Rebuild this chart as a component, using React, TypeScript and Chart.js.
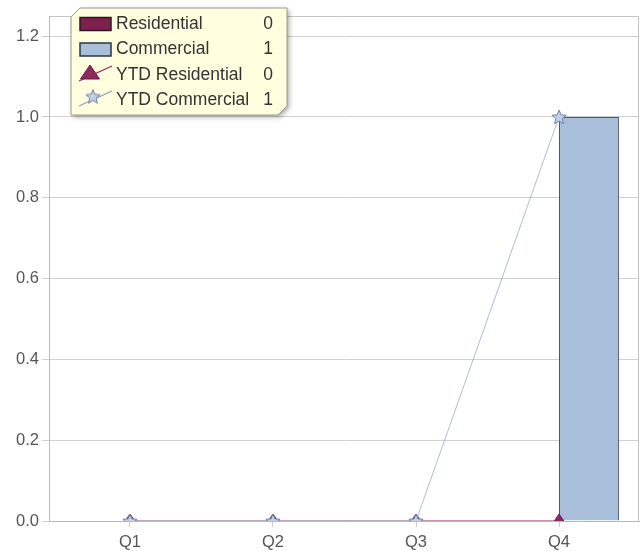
import React, { useEffect, useRef } from "react";
import { Chart, registerables } from "chart.js";

Chart.register(...registerables);

// ---- data ----
const categories = ["Q1", "Q2", "Q3", "Q4"];
const residential = [0, 0, 0, 0];
const commercial = [0, 0, 0, 1];
const ytdResidential = [0, 0, 0, 0];
const ytdCommercial = [0, 0, 0, 1];
const yTicks = [0, 0.2, 0.4, 0.6, 0.8, 1.0, 1.2];
const legendLabels = ["Residential", "Commercial", "YTD Residential", "YTD Commercial"];
const legendValues = [0, 1, 0, 1];

const FONT = "'Liberation Sans', Arial, Helvetica, sans-serif";

const C_RES = "#7F1F4E";
const C_RES_BORDER = "#3A1E2C";
const C_COM = "#A9BFDC";
const C_COM_BORDER = "#4B5670";
const C_RES_LINE = "#8C2A5C";
const C_COM_LINE = "#AEBBD8";

function makeStar(): HTMLCanvasElement {
  const s = 18;
  const cv = document.createElement("canvas");
  cv.width = s;
  cv.height = s;
  const g = cv.getContext("2d")!;
  g.beginPath();
  for (let i = 0; i < 10; i++) {
    const r = i % 2 === 0 ? 7.5 : 3.4;
    const a = -Math.PI / 2 + (i * Math.PI) / 5;
    const px = 9 + r * Math.cos(a);
    const py = 9.6 + r * Math.sin(a);
    if (i === 0) g.moveTo(px, py);
    else g.lineTo(px, py);
  }
  g.closePath();
  g.fillStyle = "#C2CFE6";
  g.fill();
  g.strokeStyle = "#6F7FA4";
  g.lineWidth = 1;
  g.stroke();
  return cv;
}

function makeTriangle(): HTMLCanvasElement {
  const w = 22;
  const h = 16;
  const cv = document.createElement("canvas");
  cv.width = w;
  cv.height = h;
  const g = cv.getContext("2d")!;
  g.beginPath();
  g.moveTo(11, 1);
  g.lineTo(20.5, 15);
  g.lineTo(1.5, 15);
  g.closePath();
  g.fillStyle = "#8E2A5E";
  g.fill();
  g.strokeStyle = "#6A1A44";
  g.lineWidth = 1;
  g.stroke();
  return cv;
}

export default function App() {
  const ref = useRef<HTMLCanvasElement | null>(null);

  useEffect(() => {
    if (!ref.current) return;
    const star = makeStar();
    const tri = makeTriangle();
    const xs = categories.map((_, i) => i + 1);

    const borderPlugin = {
      id: "frame",
      beforeDatasetsDraw(chart: any) {
        const { ctx, chartArea: a } = chart;
        ctx.save();
        ctx.strokeStyle = "#C4C4C4";
        ctx.lineWidth = 1;
        ctx.beginPath();
        ctx.moveTo(a.left, a.top + 0.5);
        ctx.lineTo(a.right - 0.5, a.top + 0.5);
        ctx.lineTo(a.right - 0.5, a.bottom);
        ctx.stroke();
        ctx.restore();
      },
    };

    const legendPlugin = {
      id: "boxLegend",
      afterDraw(chart: any) {
        const ctx: CanvasRenderingContext2D = chart.ctx;
        const L = 71, T = 8, R = 287, B = 115, c = 9;
        ctx.save();
        ctx.beginPath();
        ctx.moveTo(L, T + c);
        ctx.lineTo(L + c, T);
        ctx.lineTo(R, T);
        ctx.lineTo(R, B - c);
        ctx.lineTo(R - c, B);
        ctx.lineTo(L, B);
        ctx.closePath();
        ctx.shadowColor = "rgba(0,0,0,0.35)";
        ctx.shadowBlur = 5;
        ctx.shadowOffsetX = 2;
        ctx.shadowOffsetY = 2;
        ctx.fillStyle = "#FFFFE0";
        ctx.fill();
        ctx.shadowColor = "transparent";
        ctx.shadowBlur = 0;
        ctx.shadowOffsetX = 0;
        ctx.shadowOffsetY = 0;
        ctx.strokeStyle = "#9A9A88";
        ctx.lineWidth = 1;
        ctx.stroke();

        const rows = [24, 49.5, 75, 100];
        ctx.font = `17.5px ${FONT}`;
        ctx.textBaseline = "middle";
        legendLabels.forEach((label, i) => {
          const y = rows[i];
          if (i < 2) {
            ctx.fillStyle = i === 0 ? C_RES : C_COM;
            ctx.fillRect(80, y - 6.5, 31, 13);
            ctx.strokeStyle = i === 0 ? "#2A1620" : "#2E3544";
            ctx.lineWidth = 1.5;
            ctx.strokeRect(80, y - 6.5, 31, 13);
          } else {
            ctx.strokeStyle = i === 2 ? C_RES_LINE : "#8C9CC0";
            ctx.lineWidth = 1.2;
            ctx.beginPath();
            ctx.moveTo(79, y + 6);
            ctx.lineTo(112, y - 9);
            ctx.stroke();
            const img = i === 2 ? tri : star;
            const cx = i === 2 ? 90 : 93;
            const cy = i === 2 ? y - 3 : y - 3.5;
            ctx.drawImage(img, cx - img.width / 2, cy - img.height / 2);
          }
          ctx.fillStyle = "#333333";
          ctx.textAlign = "left";
          ctx.fillText(label, 116, y);
          ctx.textAlign = "center";
          ctx.fillText(String(legendValues[i]), 268, y);
        });
        ctx.restore();
      },
    };

    const chart = new Chart(ref.current, {
      type: "bar",
      data: {
        datasets: [
          {
            type: "bar",
            label: "Residential",
            data: xs.map((x, i) => ({ x, y: residential[i] })),
            backgroundColor: C_RES,
            borderColor: C_RES_BORDER,
            borderWidth: 1,
            categoryPercentage: 0.84,
            barPercentage: 1,
            order: 2,
          } as any,
          {
            type: "bar",
            label: "Commercial",
            data: xs.map((x, i) => ({ x, y: commercial[i] })),
            backgroundColor: C_COM,
            borderColor: C_COM_BORDER,
            borderWidth: 1,
            categoryPercentage: 0.84,
            barPercentage: 1,
            order: 3,
          } as any,
          {
            type: "line",
            label: "YTD Residential",
            data: xs.map((x, i) => ({ x, y: ytdResidential[i] })),
            borderColor: C_RES_LINE,
            borderWidth: 1,
            pointStyle: tri as any,
            pointRadius: 8,
            clip: 0,
            order: 1,
          } as any,
          {
            type: "line",
            label: "YTD Commercial",
            data: xs.map((x, i) => ({ x, y: ytdCommercial[i] })),
            borderColor: C_COM_LINE,
            borderWidth: 1,
            pointStyle: star as any,
            pointRadius: 8,
            clip: 0,
            order: 0,
          } as any,
        ],
      },
      options: {
        animation: false,
        responsive: false,
        layout: { autoPadding: false, padding: { left: 0, right: 5, top: 16, bottom: 0 } },
        plugins: {
          legend: { display: false },
          tooltip: { enabled: false },
        },
        scales: {
          x: {
            type: "linear",
            offset: false,
            min: 0.4336,
            max: 4.5594,
            afterBuildTicks: (scale: any) => {
              scale.ticks = xs.map((v) => ({ value: v }));
            },
            afterFit: (scale: any) => {
              scale.height = 30;
              scale.paddingLeft = 0;
              scale.paddingRight = 0;
            },
            ticks: {
              callback: (v: any) => categories[Math.round(Number(v)) - 1] ?? "",
              font: { size: 16.5, family: FONT },
              color: "#555555",
              padding: 6,
              maxRotation: 0,
              autoSkip: false,
            },
            grid: {
              offset: false,
              drawOnChartArea: false,
              drawTicks: true,
              tickLength: 6,
              color: "#C8CCD8",
            },
            border: { color: "#B8B8B8", width: 1 },
          },
          y: {
            type: "linear",
            min: 0,
            max: 1.25,
            afterBuildTicks: (scale: any) => {
              scale.ticks = yTicks.map((v) => ({ value: v }));
            },
            afterFit: (scale: any) => {
              scale.width = 49;
              scale.paddingTop = 0;
              scale.paddingBottom = 0;
            },
            ticks: {
              callback: (v: any) => Number(v).toFixed(1),
              font: { size: 16.5, family: FONT },
              color: "#555555",
              padding: 3,
            },
            grid: {
              color: "#CFCFCF",
              tickLength: 7,
            },
            border: { color: "#B8B8B8", width: 1 },
          },
        },
      },
      plugins: [borderPlugin, legendPlugin],
    } as any);

    return () => chart.destroy();
  }, []);

  return (
    <canvas
      ref={ref}
      width={644}
      height={551}
      style={{ position: "fixed", left: 0, top: 0, display: "block", width: 644, height: 551 }}
    />
  );
}
